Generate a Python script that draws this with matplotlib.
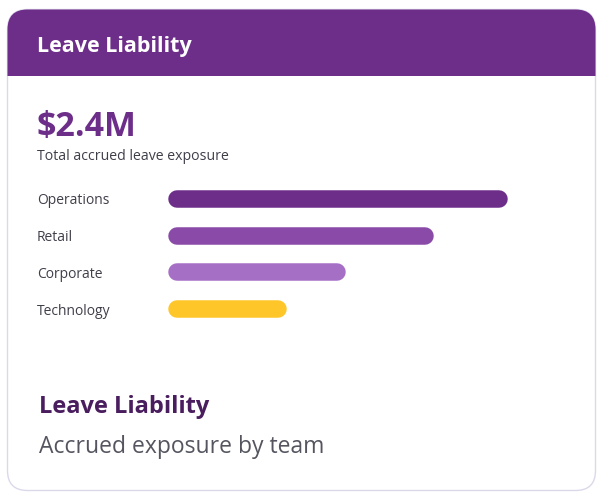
import matplotlib
matplotlib.use("Agg")
import matplotlib.pyplot as plt
from matplotlib.patches import FancyBboxPatch, Rectangle
import matplotlib.transforms as mtransforms

# veriler ($K)
teams = ["Operations", "Retail", "Corporate", "Technology"]
accrued_k = [920, 720, 480, 320]
bar_colors = ["#6d2e8a", "#8a4ba8", "#a66fc6", "#ffc629"]
header_title = "Leave Liability"
kpi_value = "$2.4M"
kpi_label = "Total accrued leave exposure"
footer_title = "Leave Liability"
footer_sub = "Accrued exposure by team"

plt.rcParams["font.family"] = ["Open Sans", "DejaVu Sans"]

W, H = 602, 499
fig = plt.figure(figsize=(W / 100, H / 100), dpi=100)
fig.patch.set_facecolor("white")

# arka plan: piksel koordinatlı eksen
bg = fig.add_axes([0, 0, 1, 1])
bg.set_xlim(0, W)
bg.set_ylim(H, 0)
bg.axis("off")

x0, y0, x1, y1 = 7.5, 9.5, 595.5, 490.5
r = 20
card = FancyBboxPatch((x0, y0), x1 - x0, y1 - y0,
                      boxstyle=f"round,pad=0,rounding_size={r}",
                      facecolor="white", edgecolor="#dcd8ea", linewidth=1.0)
bg.add_patch(card)
header = FancyBboxPatch((x0, y0), x1 - x0, y1 - y0,
                        boxstyle=f"round,pad=0,rounding_size={r}",
                        facecolor="#6d2e8a", edgecolor="none")
bg.add_patch(header)
clip = Rectangle((0, 0), W, 76, transform=bg.transData)
header.set_clip_path(clip)

bg.text(37, 51.7, header_title, color="white", fontsize=15.5, fontweight="bold",
        va="baseline", ha="left")
bg.text(36, 136, kpi_value, color="#6d2e8a", fontsize=24.5, fontweight="bold",
        va="baseline", ha="left")
bg.text(37, 160, kpi_label, color="#3f3f4a", fontsize=10.2, va="baseline", ha="left")
bg.text(39, 413.3, footer_title, color="#4a1d5e", fontsize=17, fontweight="bold",
        va="baseline", ha="left")
bg.text(39, 453.3, footer_sub, color="#555560", fontsize=16.5, va="baseline",
        ha="left")

# çubuklar
left_px, right_px = 168.5, 507.5
top_px, bot_px = 180.5, 327.5
ax = fig.add_axes([left_px / W, 1 - bot_px / H, (right_px - left_px) / W,
                   (bot_px - top_px) / H])
ax.set_xlim(0, max(accrued_k))
ax.set_ylim(len(teams) - 0.5, -0.5)
ax.axis("off")

bar_px = 17.5
px_per_x = (right_px - left_px) / max(accrued_k)
cap = bar_px / 2 / px_per_x
trans = mtransforms.blended_transform_factory(fig.transFigure, ax.transData)
for i, (t, v, c) in enumerate(zip(teams, accrued_k, bar_colors)):
    ax.plot([cap, v - cap], [i, i], color=c, linewidth=bar_px * 0.72,
            solid_capstyle="round", clip_on=False)
    ax.text(37 / W, i, t, transform=trans, color="#3f3f4a", fontsize=10,
            va="center_baseline", ha="left")

fig.savefig("out.png", dpi=100)
